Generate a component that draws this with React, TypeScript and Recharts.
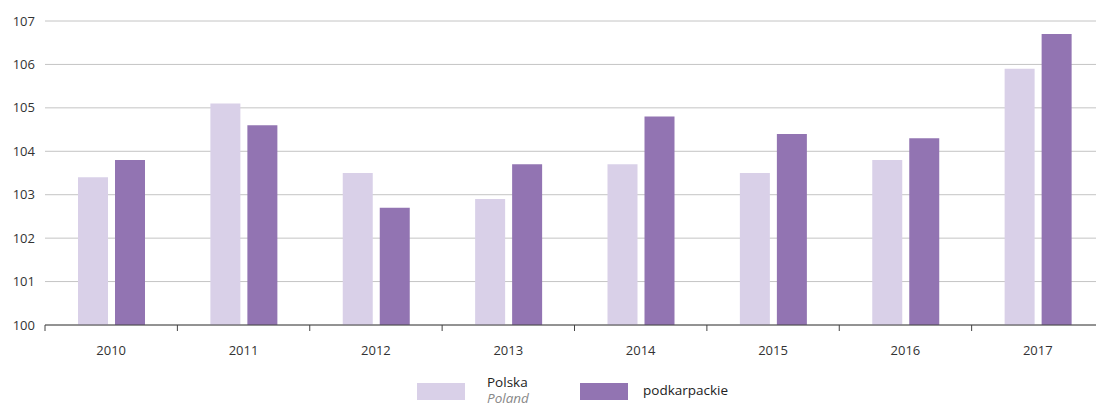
import React from "react";
import { BarChart, Bar, XAxis, YAxis, CartesianGrid } from "recharts";

const years = ["2010", "2011", "2012", "2013", "2014", "2015", "2016", "2017"];
const polska = [103.4, 105.1, 103.5, 102.9, 103.7, 103.5, 103.8, 105.9];
const podkarpackie = [103.8, 104.6, 102.7, 103.7, 104.8, 104.4, 104.3, 106.7];
const yTicks = [100, 101, 102, 103, 104, 105, 106, 107];

const data = years.map((year, i) => ({
  year,
  polska: polska[i],
  podkarpackie: podkarpackie[i],
}));

// the plot runs a little past the right edge of the picture
const W = 1096;
const CHART_W = 1104;
const H = 403;
const LEFT = 45;
const BAND = (CHART_W - LEFT) / years.length;
const FONT = "'Open Sans', 'Noto Sans', sans-serif";
const LIGHT = "#d9d0e8";
const DARK = "#9274b2";

const YearTick = ({ x, y, payload }: any) => (
  <g>
    <line x1={x - BAND / 2} y1={y} x2={x - BAND / 2} y2={y + 6} stroke="#444" />
    <text x={x} y={y + 30} textAnchor="middle" fill="#333" fontSize={13} fontFamily={FONT}>
      {payload.value}
    </text>
  </g>
);

export default function App() {
  return (
    <div style={{ position: "absolute", left: 0, top: 0, width: W, height: H, background: "#fff", overflow: "hidden" }}>
      <BarChart
        width={CHART_W}
        height={H}
        data={data}
        margin={{ top: 21, right: 0, left: 0, bottom: 38 }}
        barSize={30}
        barGap={7}
      >
        <CartesianGrid vertical={false} stroke="#c4c4c4" />
        <YAxis
          width={LEFT}
          domain={[100, 107]}
          ticks={yTicks}
          axisLine={false}
          tickLine={false}
          tickSize={0}
          tickMargin={10}
          tick={{ fill: "#333", fontSize: 13, fontFamily: FONT }}
        />
        <XAxis
          dataKey="year"
          height={40}
          tickLine={false}
          tickSize={0}
          tickMargin={0}
          axisLine={{ stroke: "#444" }}
          tick={<YearTick />}
          interval={0}
        />
        <Bar dataKey="polska" fill={LIGHT} isAnimationActive={false} />
        <Bar dataKey="podkarpackie" fill={DARK} isAnimationActive={false} />
      </BarChart>
      <div style={{ position: "absolute", left: 417, top: 383, width: 48, height: 17, background: LIGHT }} />
      <div style={{ position: "absolute", left: 487, top: 374, fontFamily: FONT, fontSize: 13.5, color: "#222", lineHeight: "16px" }}>
        <div>Polska</div>
        <div style={{ fontStyle: "italic", color: "#888" }}>Poland</div>
      </div>
      <div style={{ position: "absolute", left: 580, top: 383, width: 48, height: 17, background: DARK }} />
      <div style={{ position: "absolute", left: 643, top: 382, fontFamily: FONT, fontSize: 13.5, color: "#222", lineHeight: "16px" }}>
        podkarpackie
      </div>
    </div>
  );
}
